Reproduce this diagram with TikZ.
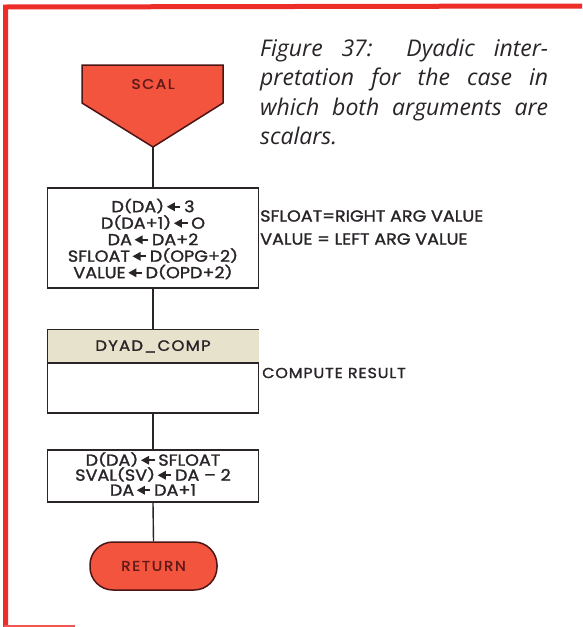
\documentclass[tikz,border=0pt]{standalone}
\usepackage{fontspec}
\usepackage{graphicx}
\usetikzlibrary{arrows.meta}
\newfontfamily\dfont{Poppins}[FakeBold=1.4,FakeStretch=1.1]
\newfontfamily\capfont{Open Sans}
\definecolor{redfill}{RGB}{243,84,62}
\definecolor{redborder}{RGB}{236,45,40}
\definecolor{ink}{RGB}{40,36,40}
\definecolor{maroon}{RGB}{95,25,25}
\definecolor{beige}{RGB}{230,226,204}
\newcommand\la{\,\tikz[baseline=0pt]{\fill (0,0.34em) -- (0.5em,0.62em) -- (0.5em,0.06em) -- cycle; \draw[line width=2pt] (0.45em,0.34em) -- (0.85em,0.34em);}\,}
\newcommand\lp{\raisebox{0.09em}{\scalebox{1}[0.8]{(}}}
\newcommand\rp{\raisebox{0.09em}{\scalebox{1}[0.8]{)}}}
\newcommand\tightlines{\lineskiplimit=-100pt\relax}
\tikzset{
  box/.style={draw=ink, line width=1.6pt, fill=white, minimum width=211pt, inner sep=0pt},
  boxtext/.style={align=center, inner sep=0pt, text=ink, font=\dfont\fontsize{16}{16.5}\selectfont\tightlines},
  conn/.style={draw=ink, line width=1.4pt},
  note/.style={anchor=west, inner sep=0pt, align=left, text=ink, font=\dfont\fontsize{16}{23}\selectfont},
  term/.style={text=maroon, font=\dfont\fontsize{14}{16}\selectfont\addfontfeatures{LetterSpace=12}},
}
\begin{document}
\begin{tikzpicture}[x=1pt,y=-1pt]
\useasboundingbox (0,0) rectangle (582,627);
\fill[white] (0,0) rectangle (582,627);
% border
\draw[redborder, line width=5pt] (5.5,627) -- (5.5,7) -- (582,6);
\draw[redborder!80, line width=2pt] (4,625.5) -- (75,625.5);
% SCAL
\filldraw[fill=redfill, draw=maroon!80!black, line width=1.5pt] (82,65) -- (223,65) -- (223,103) -- (153,147) -- (82,103) -- cycle;
\node[term] (scal) at (153,84) {SCAL};
\coordinate (scalb) at (153,147);
% box 1
\node[box, minimum height=100pt] (b1) at (153,238) {};
\node[boxtext] (t1) at (153,239) {D\lp DA\rp\la 3\\ D\lp DA+1\rp\la O\\ DA\la DA+2\\ SFLOAT\la D\lp OPG+2\rp\\ VALUE\la D\lp OPD+2\rp};
% box 2
\node[box, minimum height=83pt] (b2) at (153,371.5) {};
\fill[beige] ([shift={(0.8pt,-0.8pt)}]b2.north west) rectangle ([shift={(-0.8pt,0pt)}]b2.east |- 0,363);
\draw[ink, line width=1.6pt] (b2.west |- 0,363) -- (b2.east |- 0,363);
\node[text=ink, inner sep=0pt, font=\dfont\fontsize{15}{16}\selectfont\addfontfeatures{LetterSpace=8}] (dc) at (153,346.5) {DYAD\_COMP};
% box 3
\node[box, minimum height=52pt] (b3) at (153,476) {};
\node[boxtext, font=\dfont\fontsize{16}{15}\selectfont\tightlines] (t3) at (153,474) {D\lp DA\rp\la SFLOAT\\ SVAL\lp SV\rp\la DA – 2\\ DA\la DA+1};
% return
\node[fill=redfill, draw=maroon!80!black, line width=1.5pt, rounded corners=23pt, minimum width=127pt, minimum height=48pt, inner sep=0pt, term] (ret) at (153.5,566) {RETURN};
% connectors
\draw[conn] (scalb) -- (b1.north);
\draw[conn] (b1.south) -- (b2.north);
\draw[conn] (b2.south) -- (b3.north);
\draw[conn] (b3.south) -- (ret.north);
% notes
\node[note] (n1) at (260,227.5) {SFLOAT=RIGHT ARG VALUE\\VALUE = LEFT ARG VALUE};
\node[note, font=\dfont\fontsize{14.5}{16}\selectfont\addfontfeatures{LetterSpace=6}] (n2) at (262,373) {COMPUTE RESULT};
% caption
\node[anchor=north west, inner sep=0pt, text=ink, align=left, font=\capfont\itshape\fontsize{23}{29.3}\selectfont] (cap) at (260,39)
{\makebox[288pt][s]{Figure 37: Dyadic inter-}\\
 \makebox[288pt][s]{pretation for the case in}\\
 \makebox[288pt][s]{which both arguments are}\\
 scalars.};
\end{tikzpicture}
\end{document}
